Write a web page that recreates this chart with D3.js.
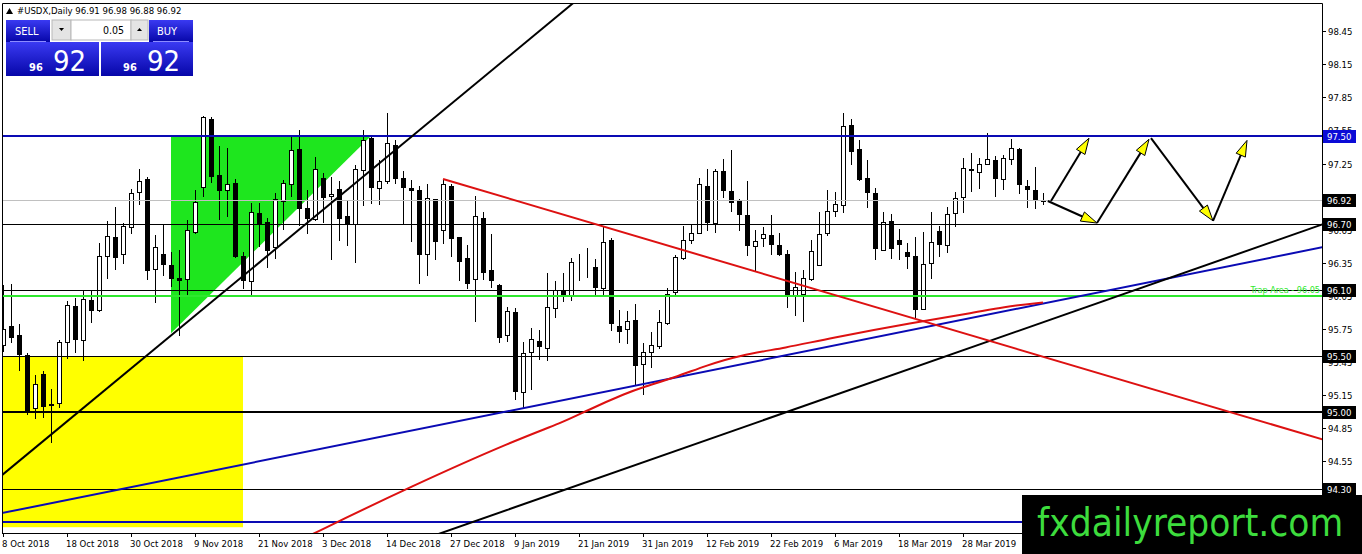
<!DOCTYPE html>
<html>
<head>
<meta charset="utf-8">
<script src="https://cdn.jsdelivr.net/npm/d3@7"></script>
<style>
  body { margin: 0; background: #fff; overflow: hidden; }
  text { font-family: "DejaVu Sans Condensed", "DejaVu Sans", sans-serif; }
</style>
</head>
<body>
<svg id="chart" width="1362" height="554"></svg>
<script>
// daily candles, 8 Oct 2018 .. 11 Apr 2019
const open = [95.60,95.78,95.69,95.51,95.03,95.34,95.06,95.08,95.63,95.96, 95.65,96.01,95.92,96.41,96.58,96.43,96.67,96.99,97.11,96.29,
  96.43,96.33,96.21,96.20,96.63,97.04,97.65,97.15,97.01,97.07, 96.41,96.18,96.80,96.72,96.49,96.91,97.06,97.38,96.85,96.75,
  97.12,96.96,97.02,96.77,96.70,97.19,97.48,97.03,97.09,97.42, 97.12,97.03,97.01,96.43,96.93,96.65,97.05,96.58,96.39,96.20,
  96.76,96.28,96.15,95.69,95.90,95.18,95.54,95.64,95.58,95.94, 96.09,96.06,96.33,96.33,96.31,96.12,96.56,95.78,95.75,95.83,
  95.43,95.54,95.59,95.80,96.08,96.39,96.56,96.62,97.05,96.71, 97.18,97.00,96.92,96.78,96.50,96.57,96.60,96.51,96.43,96.06,
  96.07,96.20,96.33,96.62,96.82,96.87,97.60,97.38,97.12,96.98, 96.47,96.73,96.56,96.45,96.41,95.93,96.35,96.64,96.51,96.80,
  96.95,97.20,97.17,97.25,97.28,97.11,97.29,97.38,97.05,97.01, 96.91];
const high = [96.15,96.16,95.79,95.53,95.33,95.37,95.20,95.65,96.00,96.03, 96.10,96.10,96.53,96.73,96.86,96.71,97.02,97.20,97.13,96.60,
  96.69,96.45,96.47,96.74,97.01,97.68,97.67,97.41,97.39,97.11, 96.45,96.89,96.89,96.76,96.98,97.10,97.50,97.55,97.01,97.31,
  97.16,97.13,97.09,96.92,97.24,97.55,97.49,97.28,97.71,97.46, 97.18,97.10,97.05,97.06,96.93,97.11,97.06,96.58,96.51,96.96,
  96.81,96.61,96.16,95.95,95.94,95.63,95.76,95.74,96.26,96.18, 96.26,96.39,96.43,96.48,96.38,96.68,96.57,95.92,95.91,95.98,
  95.62,95.72,95.92,96.12,96.42,96.68,96.69,97.12,97.20,97.20, 97.29,97.37,96.93,97.09,96.65,96.67,96.78,96.62,96.47,96.27,
  96.28,96.56,96.81,97.01,96.99,97.71,97.65,97.46,97.28,97.03, 96.81,96.79,96.66,96.53,96.58,96.63,96.81,96.68,96.86,96.99,
  97.30,97.35,97.30,97.53,97.32,97.33,97.47,97.39,97.10,97.22, 96.98];
const low = [95.55,95.63,95.38,94.98,94.94,94.95,94.72,95.04,95.49,95.54, 95.47,95.81,95.91,96.21,96.29,96.35,96.62,96.88,96.20,95.99,
  96.24,96.14,95.69,96.07,96.62,96.96,97.08,96.75,96.77,96.40, 96.12,96.06,96.50,96.31,96.39,96.66,96.96,96.69,96.62,96.74,
  96.72,96.38,96.56,96.51,96.36,96.87,96.89,96.88,97.07,97.07, 96.70,96.55,96.17,96.24,96.38,96.53,96.41,96.19,96.12,95.82,
  96.20,96.13,95.63,95.64,95.11,95.03,95.20,95.48,95.47,95.86, 96.00,96.01,96.19,96.22,96.06,96.06,95.74,95.63,95.62,95.24,
  95.16,95.40,95.58,95.79,96.06,96.38,96.53,96.62,96.65,96.63, 96.95,96.82,96.65,96.42,96.28,96.50,96.43,96.42,95.95,95.88,
  95.82,96.19,96.33,96.60,96.77,96.81,97.25,97.10,96.86,96.38, 96.47,96.39,96.38,96.30,95.85,95.93,96.21,96.41,96.45,96.68,
  96.81,97.00,97.03,97.25,96.96,97.02,97.25,96.98,96.86,96.85, 96.88];
const close = [95.75,95.68,95.52,95.00,95.25,95.05,95.07,95.63,95.97,95.66, 96.02,95.92,96.41,96.59,96.40,96.68,96.98,97.09,96.28,96.49,
  96.34,96.21,96.19,96.65,96.90,97.67,97.14,97.01,97.06,96.41, 96.19,96.81,96.70,96.47,96.93,97.07,97.37,96.85,96.76,97.20,
  96.95,96.97,96.76,96.70,97.20,97.46,97.04,97.09,97.44,97.12, 97.04,97.01,96.43,96.94,96.55,97.06,96.57,96.37,96.17,96.77,
  96.27,96.19,95.68,95.91,95.19,95.53,95.66,95.59,95.95,96.10, 96.07,96.36,96.33,96.33,96.13,96.54,95.80,95.73,95.82,95.42,
  95.54,95.60,95.81,96.07,96.40,96.56,96.62,97.06,96.72,97.18, 97.01,96.90,96.79,96.51,96.55,96.61,96.52,96.43,96.06,96.13,
  96.21,96.46,96.61,96.82,96.88,97.59,97.36,97.11,96.99,96.48, 96.72,96.48,96.52,96.41,95.93,96.34,96.54,96.52,96.79,96.94,
  97.21,97.19,97.25,97.29,97.12,97.30,97.39,97.06,97.02,96.92, 96.92];

// time axis: one label every 8 bars
const tickBars = [0, 8, 16, 24, 32, 40, 48, 56, 64, 72, 80, 88, 96, 104, 112, 120];
const tickLabels = ["8 Oct 2018", "18 Oct 2018", "30 Oct 2018", "9 Nov 2018", "21 Nov 2018", "3 Dec 2018",
  "14 Dec 2018", "27 Dec 2018", "9 Jan 2019", "21 Jan 2019", "31 Jan 2019", "12 Feb 2019",
  "22 Feb 2019", "6 Mar 2019", "18 Mar 2019", "28 Mar 2019"];
const priceTicks = [94.25, 94.55, 94.85, 95.15, 95.45, 95.75, 96.05, 96.35, 96.65, 96.95, 97.25, 97.55, 97.85, 98.15, 98.45];

// horizontal levels
const blueLevels = [97.50, 94.00];
const blackLevels = [96.70, 96.10, 95.50, 94.30];
const boldLevels = [95.00];
const trapLevel = 96.05;
const bidPrice = 96.92;

// moving average (red curve) knots [bar, price]
const maBars = [36, 39, 51, 64, 70, 73, 78, 80, 84, 88, 92, 98, 103, 114, 121, 125, 130];
const maValues = [93.79, 93.90, 94.32, 94.74, 94.90, 95.01, 95.17, 95.22, 95.31, 95.42, 95.51, 95.58, 95.66, 95.81, 95.89, 95.95, 95.99];

// trend lines: two anchors [bar, price], drawn from start bar to the right edge
const blackTrend1 = [[6, 94.79], [36, 96.59]];
const blueTrend = [[0, 94.08], [130, 95.98]];
const blackTrend2 = [[60, 94.03], [130, 95.81]];
const redTrend = [[55, 97.11], [75, 96.68]];

// shapes
const greenTriangle = [[21, 97.50], [46, 97.50], [21, 95.71]];
const yellowBox = [[-1, 95.50], [30, 93.95]];

// projected path (arrows) [bar, price]
const arrows = [
  [[131, 96.91], [135.75, 97.48]],
  [[130.6, 96.91], [136.75, 96.71]],
  [[136.75, 96.71], [143.25, 97.47]],
  [[143.5, 97.48], [151.25, 96.73]],
  [[151.25, 96.73], [155.5, 97.46]]
];

const svg = d3.select("#chart");
const plot = {left: 2, top: 3, right: 1322, bottom: 533};

const x = d3.scaleLinear().domain([0, 165]).range([3, 1323]);
const y = d3.scaleLinear().domain([93.8975, 98.7069]).range([plot.bottom, plot.top]);

svg.append("clipPath").attr("id", "plotclip")
  .append("rect")
    .attr("x", plot.left).attr("y", plot.top)
    .attr("width", plot.right - plot.left).attr("height", plot.bottom - plot.top);

const g = svg.append("g").attr("clip-path", "url(#plotclip)");

// filled objects sit behind the candles
g.append("rect")
  .attr("x", x(yellowBox[0][0])).attr("y", y(yellowBox[0][1]))
  .attr("width", x(yellowBox[1][0]) - x(yellowBox[0][0]))
  .attr("height", y(yellowBox[1][1]) - y(yellowBox[0][1]))
  .attr("fill", "#ffff00");

g.append("polygon")
  .attr("points", greenTriangle.map(d => x(d[0]) + "," + y(d[1])).join(" "))
  .attr("fill", "#1ee61e");

// candles
const bars = d3.range(open.length);
const candle = g.append("g").selectAll("g")
  .data(bars)
  .join("g");

candle.append("line")
  .attr("x1", i => x(i) + 0.5).attr("x2", i => x(i) + 0.5)
  .attr("y1", i => Math.round(y(high[i])))
  .attr("y2", i => Math.round(y(low[i])) + 1)
  .attr("stroke", "#000").attr("stroke-width", 1);

candle.append("rect")
  .attr("x", i => x(i) - 1.5)
  .attr("y", i => Math.round(y(Math.max(open[i], close[i]))) + 0.5)
  .attr("width", 4)
  .attr("height", i => Math.max(0, Math.round(y(Math.min(open[i], close[i]))) - Math.round(y(Math.max(open[i], close[i])))))
  .attr("fill", i => close[i] >= open[i] ? "#fff" : "#000")
  .attr("stroke", "#000").attr("stroke-width", 1);

// horizontal lines
g.append("line")
  .attr("x1", plot.left).attr("x2", plot.right)
  .attr("y1", Math.round(y(bidPrice)) + 0.5).attr("y2", Math.round(y(bidPrice)) + 0.5)
  .attr("stroke", "#c0c0c0");

g.selectAll(".lvl-black")
  .data(blackLevels)
  .join("line")
    .attr("x1", plot.left).attr("x2", plot.right)
    .attr("y1", d => Math.round(y(d)) + 0.5).attr("y2", d => Math.round(y(d)) + 0.5)
    .attr("stroke", "#000").attr("stroke-width", 1);

g.selectAll(".lvl-bold")
  .data(boldLevels)
  .join("line")
    .attr("x1", plot.left).attr("x2", plot.right)
    .attr("y1", d => Math.round(y(d))).attr("y2", d => Math.round(y(d)))
    .attr("stroke", "#000").attr("stroke-width", 2);

g.selectAll(".lvl-blue")
  .data(blueLevels)
  .join("line")
    .attr("x1", plot.left).attr("x2", plot.right)
    .attr("y1", d => Math.round(y(d))).attr("y2", d => Math.round(y(d)))
    .attr("stroke", "#0a0ab4").attr("stroke-width", 2);

g.append("line")
  .attr("x1", plot.left).attr("x2", plot.right)
  .attr("y1", Math.round(y(trapLevel))).attr("y2", Math.round(y(trapLevel)))
  .attr("stroke", "#2ee82e").attr("stroke-width", 2);

g.append("text")
  .attr("x", plot.right - 2).attr("y", y(trapLevel) - 3)
  .attr("text-anchor", "end")
  .attr("font-size", "9px")
  .attr("fill", "#2ee82e")
  .text("Trap Area - " + trapLevel.toFixed(2));

// trend lines
function trend(anchors, fromBar, toBar, color) {
  const [a, b] = anchors;
  const slope = (b[1] - a[1]) / (b[0] - a[0]);
  const at = bar => a[1] + slope * (bar - a[0]);
  g.append("line")
    .attr("x1", x(fromBar)).attr("y1", y(at(fromBar)))
    .attr("x2", x(toBar)).attr("y2", y(at(toBar)))
    .attr("stroke", color).attr("stroke-width", 2);
}
trend(blackTrend1, -2, 90, "#000");
trend(blueTrend, -2, 166, "#0a0ab4");
trend(blackTrend2, 40, 166, "#000");
trend(redTrend, 55, 166, "#dd1111");

// moving average
g.append("path")
  .datum(maBars.map((b, i) => [b, maValues[i]]))
  .attr("d", d3.line().x(d => x(d[0])).y(d => y(d[1])).curve(d3.curveBasis))
  .attr("fill", "none")
  .attr("stroke", "#dd1111").attr("stroke-width", 2);

// projection arrows
arrows.forEach(seg => {
  const x1 = x(seg[0][0]), y1 = y(seg[0][1]);
  const x2 = x(seg[1][0]), y2 = y(seg[1][1]);
  const len = Math.hypot(x2 - x1, y2 - y1);
  const ux = (x2 - x1) / len, uy = (y2 - y1) / len;
  const bx = x2 - 16 * ux, by = y2 - 16 * uy;
  g.append("line")
    .attr("x1", x1).attr("y1", y1).attr("x2", bx).attr("y2", by)
    .attr("stroke", "#000").attr("stroke-width", 2);
  g.append("polygon")
    .attr("points", [[x2, y2], [bx - 5 * uy, by + 5 * ux], [bx + 5 * uy, by - 5 * ux]].map(p => p.join(",")).join(" "))
    .attr("fill", "#ffff00").attr("stroke", "#000").attr("stroke-width", 1);
});

// frame
svg.append("path")
  .attr("d", `M${plot.left + 0.5},${plot.bottom}V${plot.top + 0.5}H${plot.right + 0.5}V${plot.bottom + 0.5}H${plot.left}`)
  .attr("fill", "none").attr("stroke", "#000");

// price axis
const py = svg.append("g");
py.selectAll("line")
  .data(priceTicks)
  .join("line")
    .attr("x1", plot.right).attr("x2", plot.right + 4)
    .attr("y1", d => Math.round(y(d)) + 0.5).attr("y2", d => Math.round(y(d)) + 0.5)
    .attr("stroke", "#000");
py.selectAll("text")
  .data(priceTicks)
  .join("text")
    .attr("x", plot.right + 6).attr("y", d => y(d) + 4)
    .attr("font-size", "9.5px").attr("fill", "#000")
    .text(d => d.toFixed(2));

// price tags
const tags = [
  {p: 97.50, bg: "#0b0bd6"}, {p: bidPrice, bg: "#000"}, {p: 96.70, bg: "#000"},
  {p: 96.10, bg: "#000"}, {p: 95.50, bg: "#000"}, {p: 95.00, bg: "#000"}, {p: 94.30, bg: "#000"}
];
const tag = svg.append("g").selectAll("g").data(tags).join("g");
tag.append("rect")
  .attr("x", plot.right + 1).attr("y", d => Math.round(y(d.p)) - 6)
  .attr("width", 33).attr("height", 13)
  .attr("fill", d => d.bg);
tag.append("text")
  .attr("x", plot.right + 5).attr("y", d => Math.round(y(d.p)) + 4)
  .attr("font-size", "9.5px").attr("fill", "#fff")
  .text(d => d.p.toFixed(2));

// time axis
const tx = svg.append("g");
tx.selectAll("line")
  .data(tickBars)
  .join("line")
    .attr("x1", d => x(d) + 0.5).attr("x2", d => x(d) + 0.5)
    .attr("y1", plot.bottom).attr("y2", plot.bottom + 4)
    .attr("stroke", "#000");
tx.selectAll("text")
  .data(tickBars)
  .join("text")
    .attr("x", d => x(d) - 1).attr("y", plot.bottom + 14)
    .attr("font-size", "9.5px").attr("fill", "#000")
    .text((d, i) => tickLabels[i]);

// title
svg.append("path").attr("d", "M6,14L9.5,8L13,14Z").attr("fill", "#000");
svg.append("text")
  .attr("x", 17).attr("y", 14)
  .attr("font-size", "9.5px").attr("fill", "#000")
  .text(`#USDX,Daily  ${open[open.length - 1].toFixed(2)} ${high[high.length - 1].toFixed(2)} ${low[low.length - 1].toFixed(2)} ${close[close.length - 1].toFixed(2)}`);

// one-click trading panel
const defs = svg.append("defs");
const grad = defs.append("linearGradient").attr("id", "btn").attr("x1", 0).attr("y1", 0).attr("x2", 0).attr("y2", 1);
grad.append("stop").attr("offset", "0%").attr("stop-color", "#3a3af2");
grad.append("stop").attr("offset", "100%").attr("stop-color", "#0606a8");

const panel = svg.append("g");
panel.append("rect").attr("x", 6).attr("y", 20).attr("width", 44).attr("height", 22).attr("fill", "url(#btn)");
panel.append("rect").attr("x", 149).attr("y", 20).attr("width", 44).attr("height", 22).attr("fill", "url(#btn)");
panel.append("rect").attr("x", 6).attr("y", 42).attr("width", 93).attr("height", 34).attr("fill", "url(#btn)");
panel.append("rect").attr("x", 101).attr("y", 42).attr("width", 92).attr("height", 34).attr("fill", "url(#btn)");
panel.append("line").attr("x1", 10).attr("x2", 46).attr("y1", 41.5).attr("y2", 41.5).attr("stroke", "#8c8cff");
panel.append("line").attr("x1", 153).attr("x2", 189).attr("y1", 41.5).attr("y2", 41.5).attr("stroke", "#8c8cff");
panel.append("rect").attr("x", 52).attr("y", 20).attr("width", 19).attr("height", 20).attr("fill", "#e4e4e4").attr("stroke", "#b8b8b8");
panel.append("rect").attr("x", 71).attr("y", 20).attr("width", 60).attr("height", 20).attr("fill", "#fff").attr("stroke", "#b8b8b8");
panel.append("rect").attr("x", 131).attr("y", 20).attr("width", 17).attr("height", 20).attr("fill", "#e4e4e4").attr("stroke", "#b8b8b8");
panel.append("path").attr("d", "M59,28H64L61.5,31Z").attr("fill", "#000");
panel.append("path").attr("d", "M137,31H142L139.5,28Z").attr("fill", "#000");
panel.append("text").attr("x", 124).attr("y", 34).attr("text-anchor", "end").attr("font-size", "10.5px").text("0.05");
panel.append("text").attr("x", 15).attr("y", 35).attr("font-size", "11px").attr("fill", "#fff").text("SELL");
panel.append("text").attr("x", 157).attr("y", 35).attr("font-size", "11px").attr("fill", "#fff").text("BUY");

const bidStr = close[close.length - 1].toFixed(2).split(".");
[[29, 53], [123, 147]].forEach(([sx, bx]) => {
  panel.append("text").attr("x", sx).attr("y", 71).attr("font-size", "11px").attr("font-weight", "bold").attr("fill", "#fff").text(bidStr[0]);
  panel.append("text").attr("x", bx).attr("y", 71).attr("font-size", "29px").attr("fill", "#fff").text(bidStr[1]);
});

// watermark
svg.append("rect").attr("x", 1022).attr("y", 495).attr("width", 340).attr("height", 59).attr("fill", "#000");
svg.append("text")
  .attr("x", 1037).attr("y", 536)
  .attr("font-family", "'Liberation Sans', Arial, sans-serif")
  .attr("font-size", "38.5px")
  .attr("fill", "#3ddc3d")
  .text("fxdailyreport.com");
</script>
</body>
</html>
